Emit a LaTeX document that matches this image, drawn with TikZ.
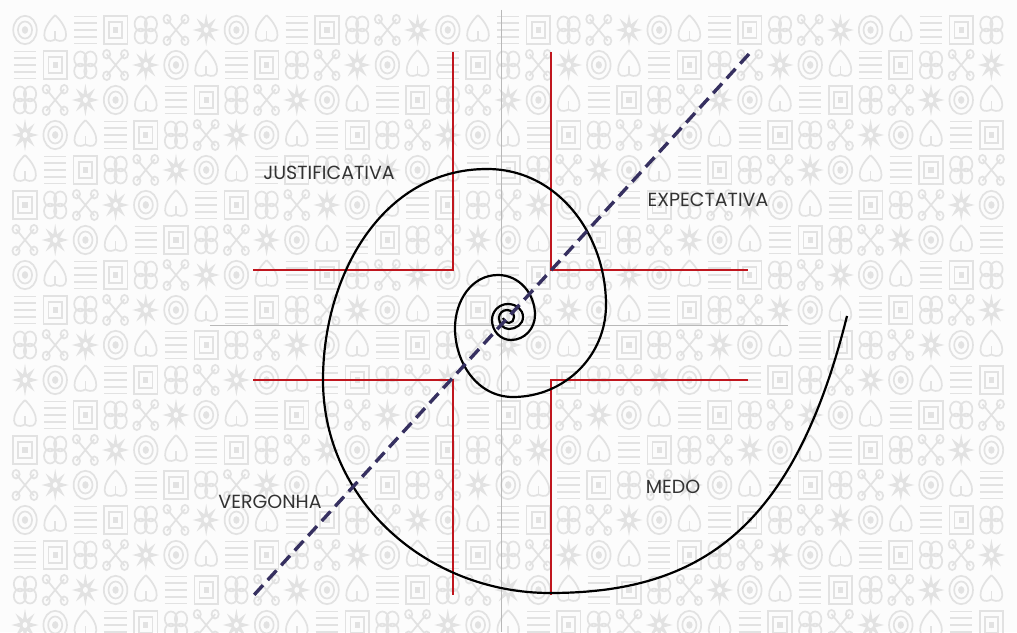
\documentclass[tikz,border=0pt]{standalone}
\usepackage{fontspec}
\setmainfont{Poppins}
\definecolor{redline}{HTML}{C0161E}
\definecolor{navy}{HTML}{363060}
\definecolor{bgsym}{HTML}{E2E2E2}
\definecolor{txt}{HTML}{333333}
\definecolor{axisgray}{HTML}{B8B8B8}
\definecolor{paper}{HTML}{FCFCFC}
\begin{document}
\begin{tikzpicture}[x=1pt,y=1pt,
  sym/.style={draw=bgsym,line width=1.7pt},
  symfill/.style={fill=bgsym},
  redl/.style={draw=redline,line width=2.4pt},
  axisl/.style={draw=axisgray,line width=0.9pt},
  spir/.style={draw=black,line width=2.2pt,looseness=1},
  diag/.style={draw=navy,line width=3.4pt,dash pattern=on 13pt off 7pt},
  lbl/.style={text=txt,font=\fontsize{19}{19}\selectfont,inner sep=0pt}]
\useasboundingbox (0,0) rectangle (1017,632);
\fill[paper] (0,0) rectangle (1017,632);
% background pattern of symbols
\begin{scope}
\clip (0,0) rectangle (1017,632);
\foreach \i in {0,...,32}{
 \foreach \j in {0,...,17}{
  \pgfmathtruncatemacro\k{mod(\i*5+\j*3,7)}
  \begin{scope}[shift={(25+30.2*\i,602-35*\j)},xscale=1.12,yscale=1.35]
  \ifcase\k
    \draw[sym] (0,0) circle (10.5) (0,0) circle (6.3); \fill[symfill] (0,0) circle (2.8);
  \or
    \draw[sym] (-10.5,-10.5) rectangle (10.5,10.5) (-6,-6) rectangle (6,6); \fill[symfill] (-2.3,-2.3) rectangle (2.3,2.3);
  \or
    \fill[symfill] (0:12) \foreach \a in {45,90,...,360}{ -- (\a-22.5:4.5) -- (\a:12)} -- cycle;
    \fill[paper] (0,0) circle (2.2);
  \or
    \foreach \yy in {-10,-5,0,5,10}{\draw[sym] (-10,\yy) -- (10,\yy);}
  \or
    \draw[sym] (-8,-8) -- (8,8) (-8,8) -- (8,-8);
    \draw[sym] (-8,-8) circle (3.2) (8,8) circle (3.2) (-8,8) circle (3.2) (8,-8) circle (3.2);
  \or
    \draw[sym] (0,11) .. controls (-14,0) and (-12,-12) .. (0,-7) .. controls (12,-12) and (14,0) .. (0,11);
    \draw[sym] (0,-7) -- (0,-1);
  \or
    \draw[sym] (4.5,4.5) circle (5.5) (-4.5,4.5) circle (5.5) (4.5,-4.5) circle (5.5) (-4.5,-4.5) circle (5.5);
  \fi
  \end{scope}
 }
}
\end{scope}
% axes
\coordinate (vt) at (501,622); \coordinate (vb) at (501,0);
\coordinate (hl) at (210,307); \coordinate (hr) at (788,307);
\draw[axisl] (vt) -- (vb);
\draw[axisl] (hl) -- (hr);
% red brackets
\coordinate (tl1) at (453,580); \coordinate (tl2) at (453,362); \coordinate (tl3) at (253,362);
\coordinate (tr1) at (551,580); \coordinate (tr2) at (551,362); \coordinate (tr3) at (748,362);
\coordinate (bl1) at (253,252); \coordinate (bl2) at (453,252); \coordinate (bl3) at (453,37);
\coordinate (br1) at (748,252); \coordinate (br2) at (551,252); \coordinate (br3) at (551,37);
\draw[redl] (tl1) -- (tl2) -- (tl3);
\draw[redl] (tr1) -- (tr2) -- (tr3);
\draw[redl] (bl1) -- (bl2) -- (bl3);
\draw[redl] (br1) -- (br2) -- (br3);
% spiral
\coordinate (s0) at (847,316);
\coordinate (s1) at (550,39);
\coordinate (s2) at (323,252);
\coordinate (s3) at (487,463);
\coordinate (s4) at (606,327);
\coordinate (s5) at (513,235);
\coordinate (s6) at (455,304);
\coordinate (s7) at (498,357);
\coordinate (s8) at (535,317);
\coordinate (s9) at (511,292);
\coordinate (s10) at (492,312);
\coordinate (s11) at (508,328);
\coordinate (s12) at (523,315);
\coordinate (s13) at (509,303);
\coordinate (s14) at (499,314);
\coordinate (s15) at (507,322);
\coordinate (s16) at (514,315);
\coordinate (s17) at (509,309);
\coordinate (s18) at (503,314);
\draw[spir] (s0) .. controls +(256:220) and +(0:150) .. (s1) to[out=180,in=270] (s2) to[out=90,in=180] (s3)
  to[out=0,in=90] (s4) to[out=270,in=0] (s5) to[out=180,in=270] (s6) to[out=90,in=180] (s7)
  to[out=0,in=90] (s8) to[out=270,in=0] (s9) to[out=180,in=270] (s10) to[out=90,in=180] (s11)
  to[out=0,in=90] (s12) to[out=270,in=0] (s13) to[out=180,in=270] (s14) to[out=90,in=180] (s15)
  to[out=0,in=90] (s16) to[out=270,in=0] (s17) to[out=180,in=270] (s18);
% dashed diagonal
\coordinate (d1) at (749,578); \coordinate (d2) at (254,37);
\draw[diag] (d1) -- (d2);
% labels
\node[lbl] (just) at (329,459) {JUSTIFICATIVA};
\node[lbl] (expe) at (708,432) {EXPECTATIVA};
\node[lbl] (verg) at (270,130) {VERGONHA};
\node[lbl] (medo) at (673,145) {MEDO};
\end{tikzpicture}
\end{document}
